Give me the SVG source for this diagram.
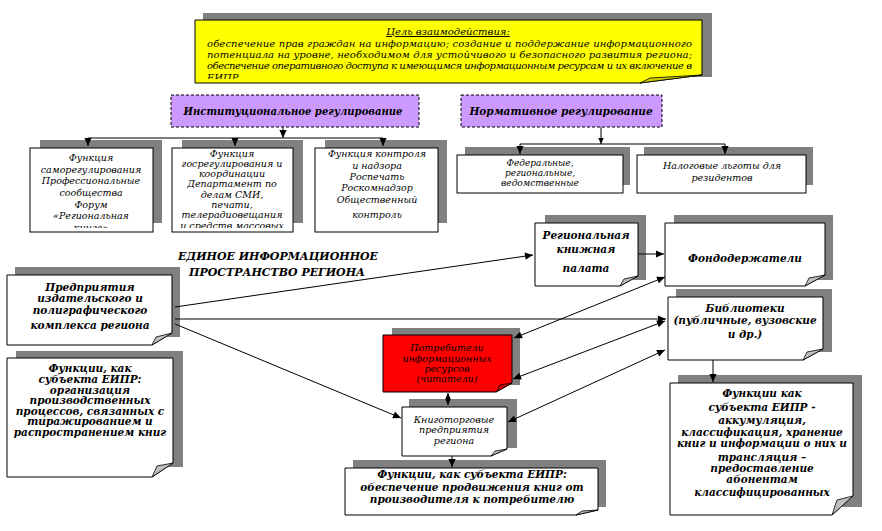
<svg xmlns="http://www.w3.org/2000/svg" width="882" height="531" viewBox="0 0 882 531">
<style>
.sh{fill:#808080}
.wb{fill:#fff;stroke:#000;stroke-width:1}
.fold{fill:#c0c0c0;stroke:#000;stroke-width:0.8}
.t{font-family:"DejaVu Serif","Liberation Serif",serif;font-style:italic;font-size:9.5px;text-anchor:middle;fill:#000}
.b{font-weight:bold;font-size:10.5px}
.y{font-size:10px}
.s{font-size:9px}
.ln{stroke:#000;stroke-width:1;fill:none}
</style>
<defs>
<marker id="ah" viewBox="0 0 10 10" refX="10" refY="5" markerWidth="9" markerHeight="8" markerUnits="userSpaceOnUse" orient="auto-start-reverse"><path d="M0,0.5 L10,5 L0,9.5 Z" fill="#000"/></marker>
<marker id="as" viewBox="0 0 10 10" refX="10" refY="5" markerWidth="6" markerHeight="6" markerUnits="userSpaceOnUse" orient="auto-start-reverse"><path d="M0,0.5 L10,5 L0,9.5 Z" fill="#000"/></marker>
<clipPath id="cy"><rect x="195" y="20" width="507" height="59"/></clipPath>
<clipPath id="c2"><rect x="20" y="145" width="300" height="83"/></clipPath>
</defs>

<g id="goal">
<rect class="sh" x="203" y="13" width="509" height="64"/>
<path d="M195,20 H702 V75 L640,83 H195 Z" fill="#ffff00" stroke="#000"/>
<path d="M702,75 L640,83 L650,78 Z" fill="#cccc00" stroke="#000" stroke-width="0.8"/>
<text class="t y" x="448" y="35" text-decoration="underline">Цель взаимодействия:</text>
<g clip-path="url(#cy)">
<text class="t y" x="207" y="47" textLength="485" lengthAdjust="spacing" style="text-anchor:start">обеспечение прав граждан на информацию; создание и поддержание информационного</text>
<text class="t y" x="207" y="58" textLength="485" lengthAdjust="spacing" style="text-anchor:start">потенциала на уровне, необходимом для устойчивого и безопасного развития региона;</text>
<text class="t y" x="207" y="69" textLength="485" lengthAdjust="spacing" style="text-anchor:start">обеспечение оперативного доступа к имеющимся информационным ресурсам и их включение в</text>
<text class="t y" x="207" y="81" style="text-anchor:start">ЕИПР</text>
</g>
</g>

<g id="inst">
<rect x="171" y="95" width="248" height="32" fill="#cc99ff" stroke="#000" stroke-dasharray="3,2"/>
<text class="t b" x="293" y="115" textLength="219" lengthAdjust="spacingAndGlyphs">Институциональное регулирование</text>
</g>
<g id="norm">
<rect x="461" y="95" width="201" height="32" fill="#cc99ff" stroke="#000" stroke-dasharray="3,2"/>
<text class="t b" x="561" y="115">Нормативное регулирование</text>
</g>

<g id="funcA">
<rect class="sh" x="40" y="140" width="122" height="83"/>
<rect class="wb" x="30" y="148" width="123" height="84"/>
<g clip-path="url(#c2)">
<text class="t" x="91" y="161">Функция</text>
<text class="t" x="91" y="172.5">саморегулирования</text>
<text class="t" x="91" y="184">Профессиональные</text>
<text class="t" x="91" y="196">сообщества</text>
<text class="t" x="91" y="207.5">Форум</text>
<text class="t" x="91" y="219">«Региональная</text>
<text class="t" x="91" y="231">книга»</text>
</g>
</g>
<g id="funcB">
<rect class="sh" x="182" y="140" width="121" height="83"/>
<rect class="wb" x="172" y="148" width="121" height="84"/>
<g clip-path="url(#c2)">
<text class="t" x="232" y="157">Функция</text>
<text class="t" x="232" y="167">госрегулирования и</text>
<text class="t" x="232" y="177">координации</text>
<text class="t" x="232" y="187">Департамент по</text>
<text class="t" x="232" y="198">делам СМИ,</text>
<text class="t" x="232" y="208">печати,</text>
<text class="t" x="232" y="218">телерадиовещания</text>
<text class="t" x="232" y="229">и средств массовых</text>
</g>
</g>
<g id="funcC">
<rect class="sh" x="325" y="140" width="122" height="83"/>
<rect class="wb" x="315" y="148" width="123" height="84"/>
<text class="t" x="377" y="157">Функция контроля</text>
<text class="t" x="377" y="169">и надзора</text>
<text class="t" x="377" y="180">Роспечать</text>
<text class="t" x="377" y="191">Роскомнадзор</text>
<text class="t" x="377" y="203">Общественный</text>
<text class="t" x="377" y="218">контроль</text>
</g>
<g id="federal">
<rect class="sh" x="465" y="147" width="165" height="38"/>
<rect class="wb" x="457" y="155" width="166" height="38"/>
<text class="t s" x="540" y="166">Федеральные,</text>
<text class="t s" x="540" y="176">региональные,</text>
<text class="t s" x="540" y="186">ведомственные</text>
</g>
<g id="tax">
<rect class="sh" x="644" y="147" width="169" height="38"/>
<rect class="wb" x="637" y="155" width="169" height="38"/>
<text class="t" x="722" y="169">Налоговые льготы для</text>
<text class="t" x="722" y="181">резидентов</text>
</g>

<text class="t b" x="278" y="260" textLength="200" lengthAdjust="spacingAndGlyphs">ЕДИНОЕ ИНФОРМАЦИОННОЕ</text>
<text class="t b" x="277" y="276" textLength="176" lengthAdjust="spacingAndGlyphs">ПРОСТРАНСТВО РЕГИОНА</text>

<g id="publishers">
<rect class="sh" x="15" y="267" width="165" height="70"/>
<path class="wb" d="M7,275 H172 V333 L152,345 H7 Z"/>
<path class="fold" d="M172,333 L152,345 L156,337 Z"/>
<text class="t b" x="90" y="291">Предприятия</text>
<text class="t b" x="90" y="302">издательского и</text>
<text class="t b" x="90" y="314">полиграфического</text>
<text class="t b" x="90" y="329">комплекса региона</text>
</g>

<g id="func-left">
<rect class="sh" x="16" y="351" width="167" height="116"/>
<path class="wb" d="M7,358 H173 V463 L152,477 H7 Z"/>
<path class="fold" d="M173,463 L152,477 L157,466 Z"/>
<text class="t b" x="90" y="372">Функции, как</text>
<text class="t b" x="90" y="383">субъекта ЕИПР:</text>
<text class="t b" x="90" y="393.5">организация</text>
<text class="t b" x="90" y="404">производственных</text>
<text class="t b" x="90" y="414.5">процессов, связанных с</text>
<text class="t b" x="90" y="425">тиражированием и</text>
<text class="t b" x="90" y="435.5">распространением  книг</text>
</g>

<g id="chamber">
<rect class="sh" x="545" y="215" width="101" height="65"/>
<path class="wb" d="M535,223 H638 V276 L620,286 H535 Z"/>
<path class="fold" d="M638,276 L620,286 L624,279 Z"/>
<text class="t b" x="586" y="239">Региональная</text>
<text class="t b" x="586" y="253">книжная</text>
<text class="t b" x="586" y="272">палата</text>
</g>

<g id="holders">
<rect class="sh" x="674" y="215" width="159" height="65"/>
<path class="wb" d="M665,223 H825 V275 L805,286 H665 Z"/>
<path class="fold" d="M825,275 L805,286 L809,278 Z"/>
<text class="t b" x="745" y="262">Фондодержатели</text>
</g>

<g id="libraries">
<rect class="sh" x="676" y="289" width="156" height="63"/>
<path class="wb" d="M668,297 H823 V349 L803,360 H668 Z"/>
<path class="fold" d="M823,349 L803,360 L807,352 Z"/>
<text class="t b" x="745" y="312">Библиотеки</text>
<text class="t b" x="745" y="324">(публичные, вузовские</text>
<text class="t b" x="745" y="338">и др.)</text>
</g>

<g id="func-right">
<rect class="sh" x="678" y="375" width="184" height="132"/>
<path class="wb" d="M670,383 H853 V496 L832,515 H670 Z"/>
<path class="fold" d="M853,496 L832,515 L837,500 Z"/>
<text class="t b" x="762" y="397">Функции как</text>
<text class="t b" x="762" y="411">субъекта ЕИПР -</text>
<text class="t b" x="762" y="424">аккумуляция,</text>
<text class="t b" x="762" y="436">классификация, хранение</text>
<text class="t b" x="762" y="447">книг и информации о них и</text>
<text class="t b" x="762" y="461">трансляция –</text>
<text class="t b" x="762" y="472">предоставление</text>
<text class="t b" x="762" y="483">абонентам</text>
<text class="t b" x="762" y="496">классифицированных</text>
</g>

<g id="readers">
<rect class="sh" x="392" y="328" width="128" height="57"/>
<path d="M383,335 H512 V383 L496,392 H383 Z" fill="#ff0000" stroke="#000"/>
<path d="M512,383 L496,392 L500,385 Z" fill="#cc0000" stroke="#000" stroke-width="0.8"/>
<text class="t" x="447" y="351">Потребители</text>
<text class="t" x="447" y="362">информационных</text>
<text class="t" x="447" y="372">ресурсов</text>
<text class="t" x="447" y="382">(читатели)</text>
</g>

<g id="booksellers">
<rect class="sh" x="409" y="399" width="108" height="49"/>
<path class="wb" d="M402,407 H507 V449 L491,456 H402 Z"/>
<path class="fold" d="M507,449 L491,456 L495,451 Z"/>
<text class="t" x="454" y="423">Книготорговые</text>
<text class="t" x="454" y="433">предприятия</text>
<text class="t" x="454" y="444">региона</text>
</g>

<g id="func-bottom">
<rect class="sh" x="353" y="460" width="253" height="47"/>
<path class="wb" d="M345,468 H598 V510 L576,515 H345 Z"/>
<path class="fold" d="M598,510 L576,515 L582,511 Z"/>
<text class="t b" x="472" y="478">Функции, как субъекта ЕИПР:</text>
<text class="t b" x="472" y="491">обеспечение продвижения книг от</text>
<text class="t b" x="472" y="503">производителя к потребителю</text>
</g>

<g id="connectors" class="ln">
<path d="M283,127 V138" marker-end="url(#ah)"/>
<path d="M88,138 H383"/>
<path d="M88,138 V146" marker-end="url(#ah)"/>
<path d="M235,138 V146" marker-end="url(#ah)"/>
<path d="M383,138 V146" marker-end="url(#ah)"/>
<path d="M601,127 V144" marker-end="url(#as)"/>
<path d="M520,144 H725"/>
<path d="M520,144 V154" marker-end="url(#ah)"/>
<path d="M725,144 V154" marker-end="url(#ah)"/>
<path d="M175,307 L533,255" marker-end="url(#ah)"/>
<path d="M175,319 L666,319" marker-end="url(#ah)"/>
<path d="M175,324 L401,418" marker-end="url(#ah)"/>
<path d="M638,254 L664,254" marker-end="url(#ah)"/>
<path d="M665,277 L514,338" marker-start="url(#ah)" marker-end="url(#ah)"/>
<path d="M665,321 L513,379" marker-start="url(#ah)" marker-end="url(#ah)"/>
<path d="M665,350 L508,422" marker-start="url(#ah)" marker-end="url(#ah)"/>
<path d="M713,360 V382" marker-end="url(#ah)"/>
<path d="M448,393 V405" marker-start="url(#as)" marker-end="url(#as)"/>
<path d="M452,456 V467" marker-end="url(#ah)"/>
</g>
</svg>
